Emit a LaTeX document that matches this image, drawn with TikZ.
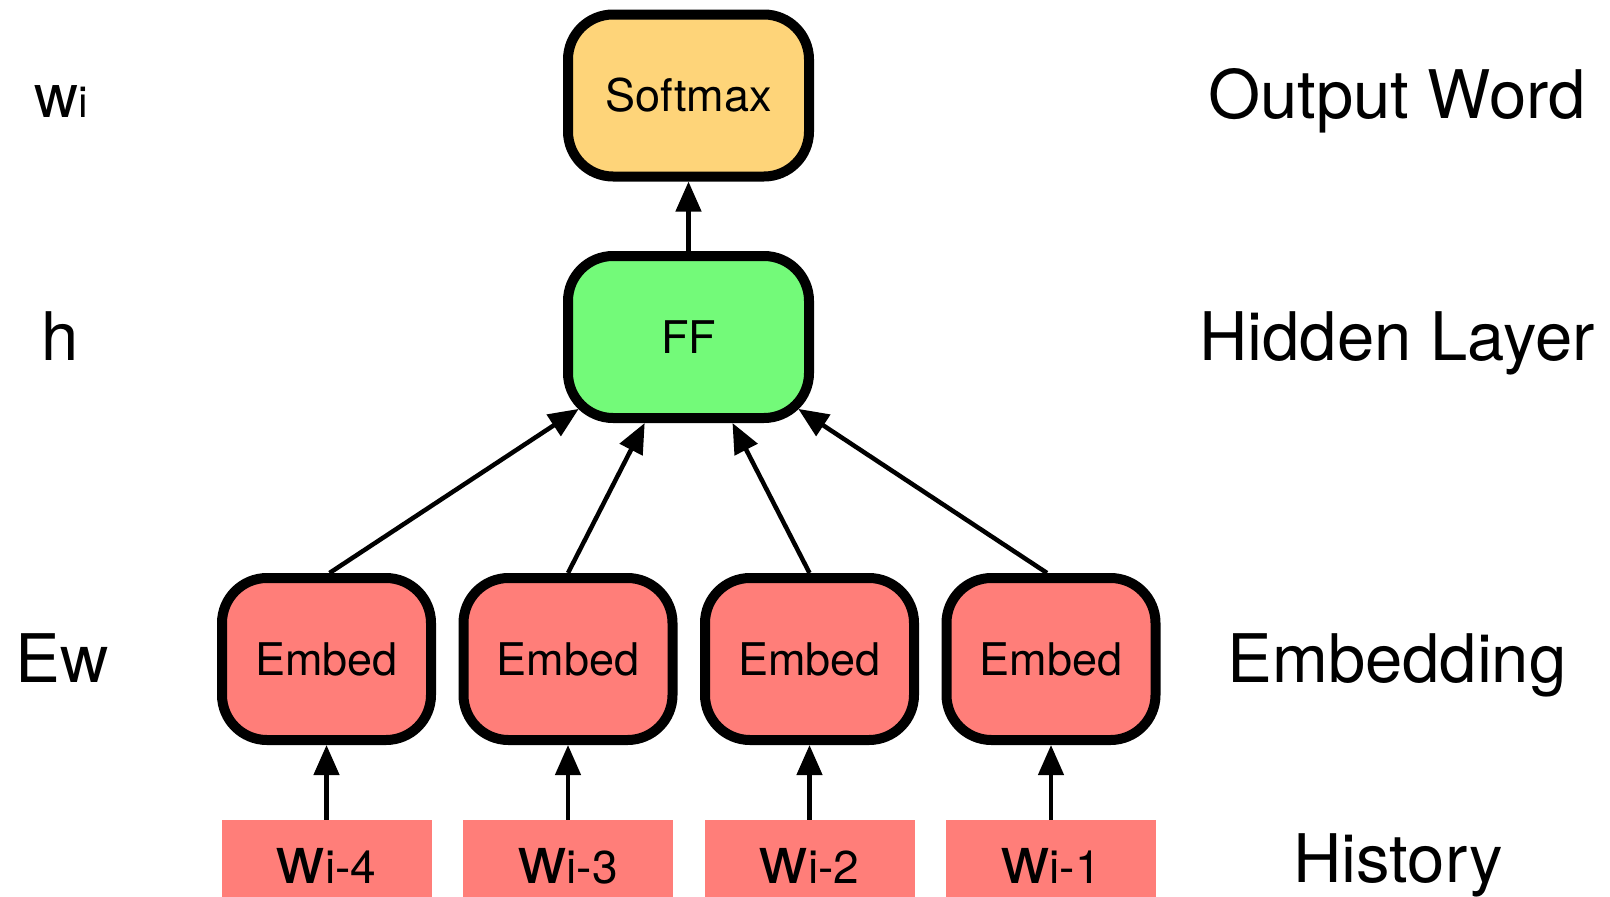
\documentclass[tikz,border=0pt]{standalone}
\usepackage{fontspec}
\setmainfont{TeX Gyre Heros}
\usetikzlibrary{arrows.meta}
\definecolor{salmon}{RGB}{255,126,121}
\definecolor{softy}{RGB}{254,212,121}
\definecolor{ffgreen}{RGB}{115,250,121}
\begin{document}
\begin{tikzpicture}[x=1pt,y=-1pt,
  blk/.style={draw, line width=10pt, rounded corners=45pt, minimum height=162pt,
    inner sep=0pt, font=\fontsize{45}{54}\selectfont},
  embedbox/.style={blk, fill=salmon, minimum width=209pt},
  wide/.style={blk, minimum width=241pt},
  hist/.style={fill=salmon, minimum width=210pt, minimum height=77pt, inner sep=0pt,
    text height=49pt, text depth=0pt},
  biglbl/.style={anchor=base, inner sep=0pt, font=\fontsize{67}{80}\selectfont},
  arr/.style={line width=4.5pt, -{Triangle[width=25pt,length=30pt]}},
]
\useasboundingbox (0,0) rectangle (1610,897);
\newcommand{\wlab}[1]{{\fontsize{67}{80}\selectfont w}{\fontsize{46}{55}\selectfont i-#1}}

% boxes
\node[wide, fill=softy] (sm) at (688.5,95.5) {Softmax};
\node[wide, fill=ffgreen] (ff) at (688.5,337) {FF};
\node[embedbox] (e4) at (326.5,659) {Embed};
\node[embedbox] (e3) at (568,659) {Embed};
\node[embedbox] (e2) at (809.5,659) {Embed};
\node[embedbox] (e1) at (1051,659) {Embed};

\node[hist] (w4) at (326.5,858.5) {\wlab{4}};
\node[hist] (w3) at (568,858.5) {\wlab{3}};
\node[hist] (w2) at (809.5,858.5) {\wlab{2}};
\node[hist] (w1) at (1051,858.5) {\wlab{1}};

% arrows
\draw[arr] (ff.north) -- (sm.south);
\draw[arr] (w4.north) -- (e4.south);
\draw[arr] (w3.north) -- (e3.south);
\draw[arr] (w2.north) -- (e2.south);
\draw[arr] (w1.north) -- (e1.south);
\draw[arr, shorten >=-18.8pt] ([xshift=3pt]e4.north) -- (ff);
\draw[arr] (e3.north) -- (ff);
\draw[arr] (e2.north) -- (ff);
\draw[arr, shorten >=-18.8pt] ([xshift=-4pt]e1.north) -- (ff);

% left labels
\node[biglbl] (lw) at (61,117) {{\fontsize{61}{70}\selectfont w}{\fontsize{43}{50}\selectfont i}};
\node[biglbl] (lh) at (60,360) {h};
\node[biglbl] (le) at (62,682) {Ew};

% right labels
\node[biglbl] (ro) at (1397,118) {Output Word};
\node[biglbl] (rh) at (1397,360) {Hidden Layer};
\node[biglbl] (re) at (1397,682) {Embedding};
\node[biglbl] (rhi) at (1398,882) {History};
\end{tikzpicture}
\end{document}
